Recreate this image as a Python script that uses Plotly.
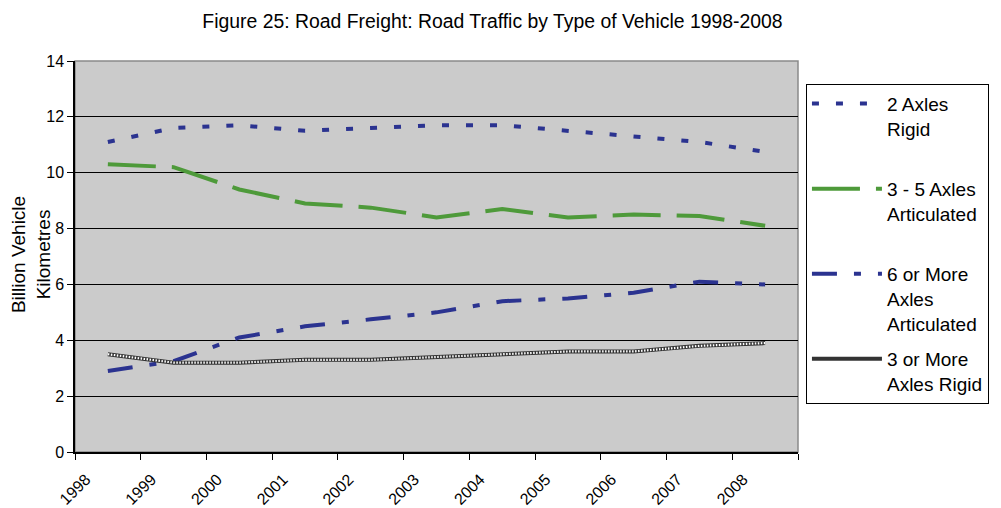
import plotly.graph_objects as go

# Road traffic by type of vehicle, billion vehicle kilometres
years = ['1998', '1999', '2000', '2001', '2002', '2003',
         '2004', '2005', '2006', '2007', '2008']

two_axles_rigid = [11.1, 11.6, 11.7, 11.5, 11.6, 11.7, 11.7, 11.5, 11.3, 11.1, 10.75]
three_five_artic = [10.3, 10.2, 9.4, 8.9, 8.75, 8.4, 8.7, 8.4, 8.5, 8.45, 8.1]
six_more_artic = [2.9, 3.25, 4.1, 4.5, 4.75, 5.0, 5.4, 5.5, 5.7, 6.1, 6.0]
three_more_rigid = [3.5, 3.2, 3.2, 3.3, 3.3, 3.4, 3.5, 3.6, 3.6, 3.8, 3.9]

y_ticks = [0, 2, 4, 6, 8, 10, 12, 14]

FONT = 'Arial, Liberation Sans, sans-serif'
BLUE = '#2B3390'
GREEN = '#4E9A3A'

fig = go.Figure()

# 2 axles rigid - dotted
fig.add_trace(go.Scatter(
    x=years, y=two_axles_rigid, mode='lines',
    name='2 Axles<br>Rigid<br> ', legendgroup='a',
    line=dict(color=BLUE, width=4, dash='7px,17px')
))

# 3-5 axles articulated - long dash
fig.add_trace(go.Scatter(
    x=years, y=three_five_artic, mode='lines',
    name='3 - 5 Axles<br>Articulated<br> ', legendgroup='b',
    line=dict(color=GREEN, width=4, dash='48px,16px')
))

# 6+ axles articulated - dash dot
fig.add_trace(go.Scatter(
    x=years, y=six_more_artic, mode='lines',
    name='6 or More<br>Axles<br>Articulated', legendgroup='c',
    line=dict(color=BLUE, width=4, dash='25px,17px,7px,17px')
))

# 3+ axles rigid - checkered line (dark base + white dots on top)
fig.add_trace(go.Scatter(
    x=years, y=three_more_rigid, mode='lines',
    name='3 or More<br>Axles Rigid', legendgroup='d',
    line=dict(color='#333333', width=4)
))
fig.add_trace(go.Scatter(
    x=years, y=three_more_rigid, mode='lines',
    legendgroup='d', showlegend=False, hoverinfo='skip',
    line=dict(color='#ffffff', width=2.2, dash='1.5px,1.5px')
))

# plot area frame (grey on top / right)
fig.add_shape(type='rect', xref='paper', yref='paper', x0=0, y0=0, x1=1, y1=1,
              line=dict(color='#8a8a8a', width=1.5), layer='below')

# y axis title overlapping tick labels like the original
fig.add_annotation(
    text='Billion Vehicle<br>Kilometres', textangle=-90,
    xref='paper', yref='paper', x=-0.0615, y=0.505,
    xanchor='center', yanchor='middle', showarrow=False,
    font=dict(family=FONT, size=19, color='black')
)

fig.update_layout(
    width=1001, height=508,
    margin=dict(l=75, r=203, t=61, b=56),
    paper_bgcolor='white',
    plot_bgcolor='#CBCBCB',
    font=dict(family=FONT, size=16, color='black'),
    title=dict(
        text='Figure 25: Road Freight: Road Traffic by Type of Vehicle 1998-2008',
        font=dict(family=FONT, size=19.4, color='black'),
        xref='container', x=0.492, xanchor='center',
        yref='container', y=0.958, yanchor='middle'
    ),
    legend=dict(
        x=1.011, y=0.942, xanchor='left', yanchor='top',
        bgcolor='white', bordercolor='black', borderwidth=1,
        font=dict(family=FONT, size=19, color='black'),
        itemwidth=70, tracegroupgap=8, valign='top',
        itemclick=False, itemdoubleclick=False
    ),
    showlegend=True
)

fig.update_xaxes(
    type='category', range=[-0.5, 10.5], automargin=False,
    tickson='boundaries', ticks='outside', ticklen=6, tickcolor='black',
    tickangle=-45, ticklabelshift=-22, ticklabelstandoff=10, showgrid=False,
    showline=True, linecolor='black', linewidth=1.5,
    tickfont=dict(family=FONT, size=16, color='black')
)

fig.update_yaxes(
    range=[0, 14], tickvals=y_ticks, automargin=False,
    ticks='outside', ticklen=6, tickcolor='black',
    showgrid=True, gridcolor='black', gridwidth=1, zeroline=False,
    showline=True, linecolor='black', linewidth=1.5,
    tickfont=dict(family=FONT, size=16, color='black')
)

# the page's default body margin would shift the figure by 8px
fig.write_html("out.html", config={'displayModeBar': False},
               post_script="document.body.style.margin='0';")
